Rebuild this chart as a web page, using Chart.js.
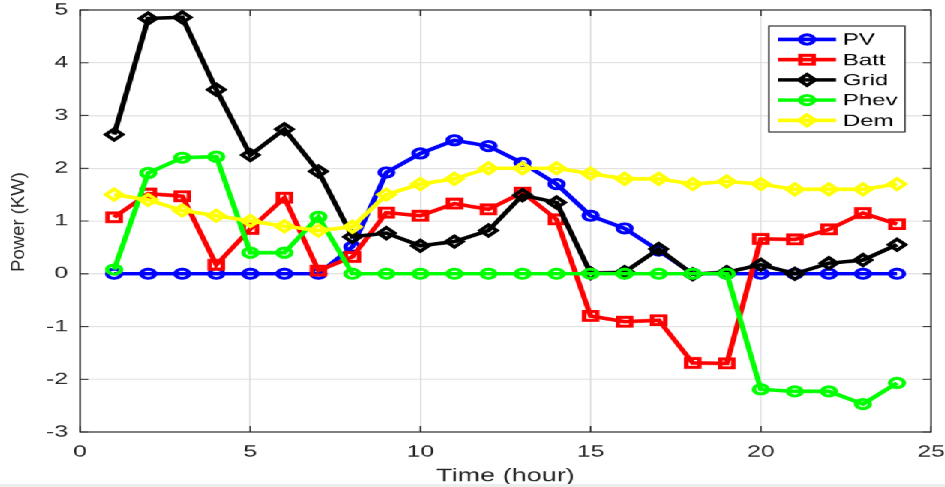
<!DOCTYPE html>
<html><head><meta charset="utf-8">
<script src="https://cdn.jsdelivr.net/npm/chart.js@4/dist/chart.umd.min.js"></script>
<style>
html,body{margin:0;padding:0;background:#eeeeee;overflow:hidden;}
#wrap{width:630px;height:484px;transform:scaleX(1.5);transform-origin:0 0;background:#ffffff;}
canvas{display:block;}
</style></head><body>
<div id="wrap"><canvas id="c" width="630" height="484"></canvas></div>
<script>
// ---- data ----
const hours = [1,2,3,4,5,6,7,8,9,10,11,12,13,14,15,16,17,18,19,20,21,22,23,24];
const seriesNames = ['PV','Batt','Grid','Phev','Dem'];
const pv   = [0,0,0,0,0,0,0,0.51,1.92,2.28,2.53,2.42,2.1,1.7,1.1,0.86,0.44,0,0,0,0,0,0,0];
const batt = [1.07,1.52,1.47,0.17,0.85,1.44,0.06,0.32,1.16,1.1,1.33,1.22,1.54,1.03,-0.8,-0.91,-0.88,-1.69,-1.7,0.66,0.65,0.84,1.15,0.94];
const grid = [2.64,4.84,4.86,3.49,2.25,2.74,1.94,0.7,0.77,0.53,0.61,0.82,1.49,1.35,0.01,0.03,0.47,-0.01,0.03,0.17,0.0,0.2,0.26,0.55];
const phev = [0.08,1.91,2.2,2.22,0.4,0.4,1.08,0,0,0,0,0,0,0,0,0,0,0,0,-2.19,-2.23,-2.23,-2.47,-2.07];
const dem  = [1.5,1.4,1.2,1.1,1.0,0.9,0.82,0.89,1.5,1.7,1.8,2.0,2.0,2.0,1.9,1.8,1.8,1.7,1.75,1.7,1.6,1.6,1.6,1.7];
const xTicks = [0,5,10,15,20,25];
const yTicks = [-3,-2,-1,0,1,2,3,4,5];
const xTitle = 'Time (hour)';
const yTitle = 'Power (KW)';

// ---- styling ----
const S = 1.5; // horizontal stretch of the figure
const FONT = '"Liberation Sans", Arial, Helvetica, sans-serif';
const TXT = '#262626';
const styles = [
  {color:'#0000ff', pointStyle:'circle',  radius:4.6, order:4},
  {color:'#ff0000', pointStyle:'rect',    radius:6.2, order:3},
  {color:'#000000', pointStyle:'rectRot', radius:5.5, order:2},
  {color:'#00ff00', pointStyle:'circle',  radius:4.6, order:1},
  {color:'#ffff00', pointStyle:'rectRot', radius:5.5, order:0}
];
const values = [pv, batt, grid, phev, dem];

const datasets = seriesNames.map((name, i) => ({
  label: name,
  data: hours.map((h, k) => ({x: h, y: values[i][k]})),
  borderColor: styles[i].color,
  backgroundColor: 'rgba(0,0,0,0)',
  pointBorderColor: styles[i].color,
  pointBackgroundColor: 'rgba(0,0,0,0)',
  pointStyle: styles[i].pointStyle,
  pointRadius: styles[i].radius,
  pointBorderWidth: 3,
  borderWidth: 3.6,
  tension: 0,
  fill: false,
  order: styles[i].order
}));

function drawMarker(ctx, style, r, x, y) {
  ctx.beginPath();
  if (style === 'circle') {
    ctx.arc(x, y, r, 0, Math.PI * 2);
  } else if (style === 'rect') {
    const h = r * Math.SQRT1_2;
    ctx.rect(x - h, y - h, 2 * h, 2 * h);
  } else {
    ctx.moveTo(x - r, y); ctx.lineTo(x, y - r); ctx.lineTo(x + r, y); ctx.lineTo(x, y + r); ctx.closePath();
  }
  ctx.stroke();
}

function noPad(s) { s.paddingTop = 0; s.paddingBottom = 0; s.paddingLeft = 0; s.paddingRight = 0; }

const framePlugin = {
  id: 'frame',
  beforeDatasetsDraw(chart) {
    const {ctx, chartArea: a, scales: {x, y}} = chart;
    ctx.save();
    ctx.strokeStyle = TXT;
    ctx.lineWidth = 1;
    ctx.beginPath();
    xTicks.forEach(v => {
      const px = x.getPixelForValue(v);
      ctx.moveTo(px, a.bottom); ctx.lineTo(px, a.bottom - 6);
      ctx.moveTo(px, a.top); ctx.lineTo(px, a.top + 6);
    });
    yTicks.forEach(v => {
      const py = y.getPixelForValue(v);
      ctx.moveTo(a.left, py); ctx.lineTo(a.left + 5.5, py);
      ctx.moveTo(a.right, py); ctx.lineTo(a.right - 5.5, py);
    });
    ctx.stroke();
    ctx.strokeRect(a.left, a.top, a.right - a.left, a.bottom - a.top);
    ctx.restore();
  }
};

const legendPlugin = {
  id: 'boxLegend',
  afterDraw(chart) {
    const ctx = chart.ctx;
    const bx = 512.7, by = 26, bw = 90.6, bh = 106;
    ctx.save();
    ctx.fillStyle = '#ffffff';
    ctx.fillRect(bx, by, bw, bh);
    ctx.strokeStyle = TXT;
    ctx.lineWidth = 1;
    ctx.strokeRect(bx, by, bw, bh);
    ctx.font = '16px ' + FONT;
    ctx.textBaseline = 'middle';
    ctx.textAlign = 'left';
    chart.data.datasets.forEach((ds, i) => {
      const yy = 39.5 + i * 20.2;
      ctx.strokeStyle = ds.borderColor;
      ctx.lineWidth = ds.borderWidth;
      ctx.beginPath(); ctx.moveTo(518.7, yy); ctx.lineTo(557.5, yy); ctx.stroke();
      ctx.lineWidth = ds.pointBorderWidth;
      drawMarker(ctx, ds.pointStyle, ds.pointRadius, 538.1, yy);
      ctx.fillStyle = '#000000';
      ctx.fillText(ds.label, 562, yy + 1);
    });
    ctx.restore();
  }
};

const yTitlePlugin = {
  id: 'yTitle',
  afterDraw(chart) {
    const ctx = chart.ctx;
    ctx.save();
    ctx.translate(16, 222);
    ctx.scale(1 / S, 1);
    ctx.rotate(-Math.PI / 2);
    ctx.font = '18.5px ' + FONT;
    ctx.fillStyle = TXT;
    ctx.textAlign = 'center';
    ctx.textBaseline = 'alphabetic';
    ctx.fillText(yTitle, 0, 0);
    ctx.restore();
  }
};

new Chart(document.getElementById('c'), {
  type: 'line',
  data: {datasets},
  options: {
    responsive: false,
    animation: false,
    devicePixelRatio: S,
    layout: {padding: {top: 10, right: 8.7, left: 0, bottom: 0}},
    plugins: {legend: {display: false}, tooltip: {enabled: false}},
    scales: {
      x: {
        type: 'linear', min: 0, max: 25,
        afterBuildTicks: s => { s.ticks = xTicks.map(v => ({value: v})); },
        afterFit: s => { s.height = 52; noPad(s); },
        grid: {color: '#dedede', lineWidth: 1, drawTicks: false},
        border: {display: false},
        ticks: {padding: 10, color: TXT, font: {family: FONT, size: 16.5}, maxRotation: 0, autoSkip: false},
        title: {display: true, text: xTitle, color: TXT, font: {family: FONT, size: 18}, padding: {top: 0, bottom: -3}}
      },
      y: {
        type: 'linear', min: -3, max: 5,
        afterBuildTicks: s => { s.ticks = yTicks.map(v => ({value: v})); },
        afterFit: s => { s.width = 53.33; noPad(s); },
        grid: {color: '#dedede', lineWidth: 1, drawTicks: false},
        border: {display: false},
        ticks: {padding: 8, color: TXT, font: {family: FONT, size: 16.5}, autoSkip: false}
      }
    }
  },
  plugins: [framePlugin, legendPlugin, yTitlePlugin]
});
</script>
</body></html>
